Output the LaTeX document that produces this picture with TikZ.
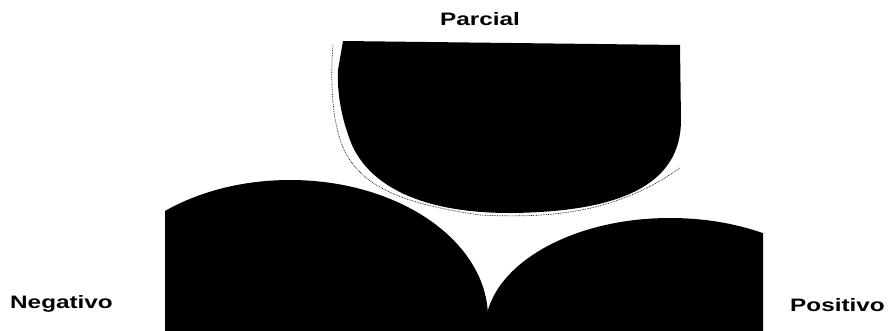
\documentclass[tikz,border=0pt]{standalone}
\usepackage{fontspec}
\setmainfont{Liberation Sans}
\tikzset{
  blob/.style={fill=black, draw=none},
  lbl/.style={inner sep=0pt, anchor=base west, font=\bfseries\fontsize{18}{18}\selectfont},
  speck/.style={draw=black, line width=0.7pt, densely dotted}
}
\begin{document}
\begin{tikzpicture}[x=1pt, y=-1pt]
\useasboundingbox (0,0) rectangle (895,330);
% top shape (Parcial)
\fill[blob] (343,41) -- (680,45) -- (681,120)
  .. controls (681,185) and (620,212) .. (510,213)
  .. controls (420,213) and (370,185) .. (352,145)
  .. controls (341,118) and (337,92) .. (338,70) -- cycle;
\draw[speck] (333,45) .. controls (329,95) and (335,140) .. (350,160)
  .. controls (370,190) and (410,205) .. (480,215)
  .. controls (560,219) and (620,210) .. (680,168);
% left shape (Negativo)
\begin{scope}
  \clip (165,100) rectangle (488,330);
  \fill[blob] (290,318) ellipse [x radius=198, y radius=138];
  \fill[blob] (165,318) rectangle (487,330);
\end{scope}
% right shape (Positivo)
\begin{scope}
  \clip (484,100) rectangle (763,330);
  \fill[blob] (670,330) ellipse [x radius=185, y radius=112];
\end{scope}
% labels
\node[lbl, anchor=base] (parcial) at (480,25) {\scalebox{1.35}[1]{Parcial}};
\node[lbl] (negativo) at (10,308) {\scalebox{1.35}[1]{Negativo}};
\node[lbl] (positivo) at (790,311) {\scalebox{1.35}[1]{Positivo}};
\end{tikzpicture}
\end{document}
